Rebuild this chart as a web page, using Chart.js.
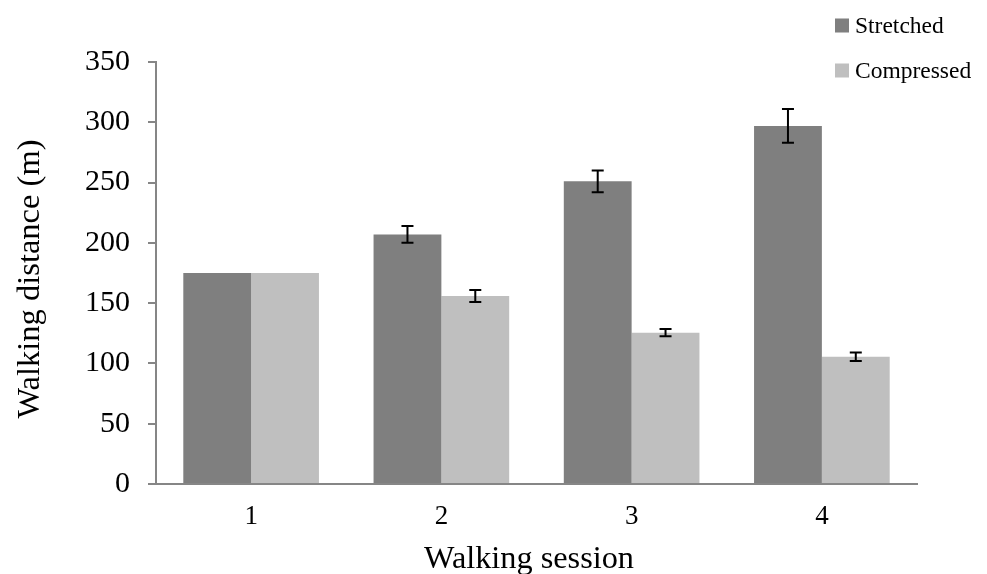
<!DOCTYPE html>
<html>
<head>
<meta charset="utf-8">
<script src="https://cdn.jsdelivr.net/npm/chart.js@4"></script>
<style>
html,body{margin:0;padding:0;background:#fff;}
#wrap{width:987px;height:574px;}
</style>
</head>
<body>
<div id="wrap"><canvas id="c" width="987" height="574"></canvas></div>
<script>
const categories = ['1', '2', '3', '4'];
const stretched = [175, 207, 251, 297];
const compressed = [175, 156, 125.5, 105.5];
const stretchedErr = [0, 7, 9, 14];
const compressedErr = [0, 5, 3, 3.5];
const yTicks = [0, 50, 100, 150, 200, 250, 300, 350];
const xTitle = 'Walking session';
const yTitle = 'Walking distance (m)';

const FONT = "'Liberation Serif', 'Times New Roman', serif";
const AXIS = '#868686';

const errorBars = {
  id: 'errorBars',
  afterDatasetsDraw(chart) {
    const ctx = chart.ctx;
    const y = chart.scales.y;
    const errs = [stretchedErr, compressedErr];
    ctx.save();
    ctx.strokeStyle = '#000';
    ctx.lineWidth = 2;
    chart.data.datasets.forEach((ds, di) => {
      const meta = chart.getDatasetMeta(di);
      meta.data.forEach((bar, i) => {
        const e = errs[di][i];
        if (!e) return;
        const v = ds.data[i];
        const x = bar.x;
        const yt = y.getPixelForValue(v + e);
        const yb = y.getPixelForValue(v - e);
        ctx.beginPath();
        ctx.moveTo(x, yt); ctx.lineTo(x, yb);
        ctx.moveTo(x - 6, yt); ctx.lineTo(x + 6, yt);
        ctx.moveTo(x - 6, yb); ctx.lineTo(x + 6, yb);
        ctx.stroke();
      });
    });
    ctx.restore();
  }
};

const sideLegend = {
  id: 'sideLegend',
  afterDraw(chart) {
    const ctx = chart.ctx;
    ctx.save();
    ctx.font = '23.5px ' + FONT;
    ctx.textBaseline = 'middle';
    ctx.textAlign = 'left';
    const rows = [25.5, 70.5];
    chart.data.datasets.forEach((ds, i) => {
      const cy = rows[i];
      ctx.fillStyle = ds.backgroundColor;
      ctx.fillRect(835, cy - 7, 14, 14);
      ctx.fillStyle = '#000';
      ctx.fillText(ds.label, 855, cy + 1);
    });
    ctx.restore();
  }
};

const axisTitles = {
  id: 'axisTitles',
  afterDraw(chart) {
    const ctx = chart.ctx;
    ctx.save();
    ctx.fillStyle = '#000';
    ctx.font = '32.3px ' + FONT;
    ctx.textAlign = 'center';
    ctx.textBaseline = 'middle';
    ctx.fillText(xTitle, 529, 560);
    ctx.translate(30, 279);
    ctx.rotate(-Math.PI / 2);
    ctx.font = '32.5px ' + FONT;
    ctx.fillText(yTitle, 0, 0);
    ctx.restore();
  }
};

new Chart(document.getElementById('c'), {
  type: 'bar',
  data: {
    labels: categories,
    datasets: [
      { label: 'Stretched', data: stretched, backgroundColor: '#7f7f7f' },
      { label: 'Compressed', data: compressed, backgroundColor: '#bfbfbf' }
    ]
  },
  options: {
    responsive: false,
    animation: false,
    devicePixelRatio: 1,
    categoryPercentage: 0.713,
    barPercentage: 1.0,
    layout: { padding: { left: 0, right: 70, top: 62, bottom: 0 } },
    plugins: {
      legend: { display: false },
      tooltip: { enabled: false }
    },
    scales: {
      x: {
        grid: { drawOnChartArea: false, drawTicks: false },
        border: { display: true, color: AXIS, width: 2 },
        ticks: { color: '#000', font: { family: FONT, size: 27 }, padding: 17 },
        afterFit(s) { s.height = 90; }
      },
      y: {
        min: 0, max: 350,
        afterBuildTicks(s) { s.ticks = yTicks.map(v => ({ value: v })); },
        grid: { drawOnChartArea: false, drawTicks: true, tickLength: 8, color: AXIS, lineWidth: 2 },
        border: { display: true, color: AXIS, width: 2 },
        ticks: { color: '#000', font: { family: FONT, size: 30 }, padding: 18 },
        afterFit(s) { s.width = 156; }
      }
    }
  },
  plugins: [errorBars, sideLegend, axisTitles]
});
</script>
</body>
</html>
